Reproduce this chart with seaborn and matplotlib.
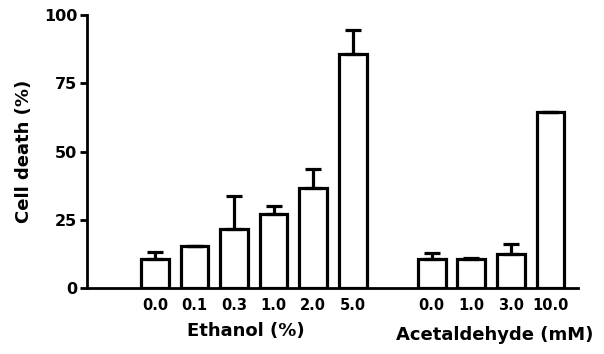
import numpy as np
import pandas as pd
import matplotlib
matplotlib.use("Agg")
import matplotlib.pyplot as plt
import seaborn as sns

# values
ethanol_dose = ["0.0", "0.1", "0.3", "1.0", "2.0", "5.0"]
ethanol_death = [10.8, 15.6, 21.8, 27.0, 36.5, 85.8]
ethanol_err = [2.5, 0.0, 11.8, 3.2, 7.0, 8.5]

acet_dose = ["0.0", "1.0", "3.0", "10.0"]
acet_death = [10.8, 10.8, 12.5, 64.5]
acet_err = [2.0, 0.3, 3.5, 0.0]

df = pd.DataFrame({
    "cond": ["E" + d for d in ethanol_dose] + ["A" + d for d in acet_dose],
    "death": ethanol_death + acet_death,
    "err": ethanol_err + acet_err,
})
order = ["E" + d for d in ethanol_dose] + ["gap"] + ["A" + d for d in acet_dose]

sns.set_style("ticks", {"axes.edgecolor": "black", "text.color": "black",
                        "xtick.color": "black", "ytick.color": "black",
                        "axes.labelcolor": "black"})
plt.rcParams["font.family"] = ["DejaVu Sans"]
plt.rcParams["font.weight"] = "bold"

fig = plt.figure(figsize=(6.04, 3.54), dpi=100)
ax = fig.add_axes([0.144, 0.186, 0.813, 0.772])

sns.barplot(data=df, x="cond", y="death", order=order, color="white",
            edgecolor="black", linewidth=2.3, width=0.7, errorbar=None, ax=ax)

# upward-only error bars
pos = {c: i for i, c in enumerate(order)}
xs = df["cond"].map(pos).values
ax.errorbar(xs, df["death"], yerr=[np.zeros(len(df)), df["err"]], fmt="none",
            ecolor="black", elinewidth=2.3, capsize=6, capthick=2.3)

ax.set_ylim(0, 100)
ax.set_xlim(-1.72, 10.7)
ax.set_yticks([0, 25, 50, 75, 100])
ax.set_xticks(range(len(order)))
ax.set_xticklabels(ethanol_dose + [""] + acet_dose, fontsize=10.5, fontweight="bold")
ax.tick_params(axis="x", length=0, pad=7)
ax.tick_params(axis="y", length=5, width=2, labelsize=11.5, pad=2)
for lab in ax.get_yticklabels():
    lab.set_fontweight("bold")

ax.set_xlabel("")
ax.set_ylabel("Cell death (%)", fontsize=13, fontweight="bold", labelpad=8)
sns.despine(ax=ax)
ax.spines["left"].set_linewidth(2)
ax.spines["bottom"].set_linewidth(2)

fig.text(246 / 604, 1 - 331 / 354, "Ethanol (%)", ha="center", va="center",
         fontsize=13, fontweight="bold")
fig.text(495 / 604, 1 - 335 / 354, "Acetaldehyde (mM)", ha="center", va="center",
         fontsize=13, fontweight="bold")

fig.savefig("out.png", dpi=100)
